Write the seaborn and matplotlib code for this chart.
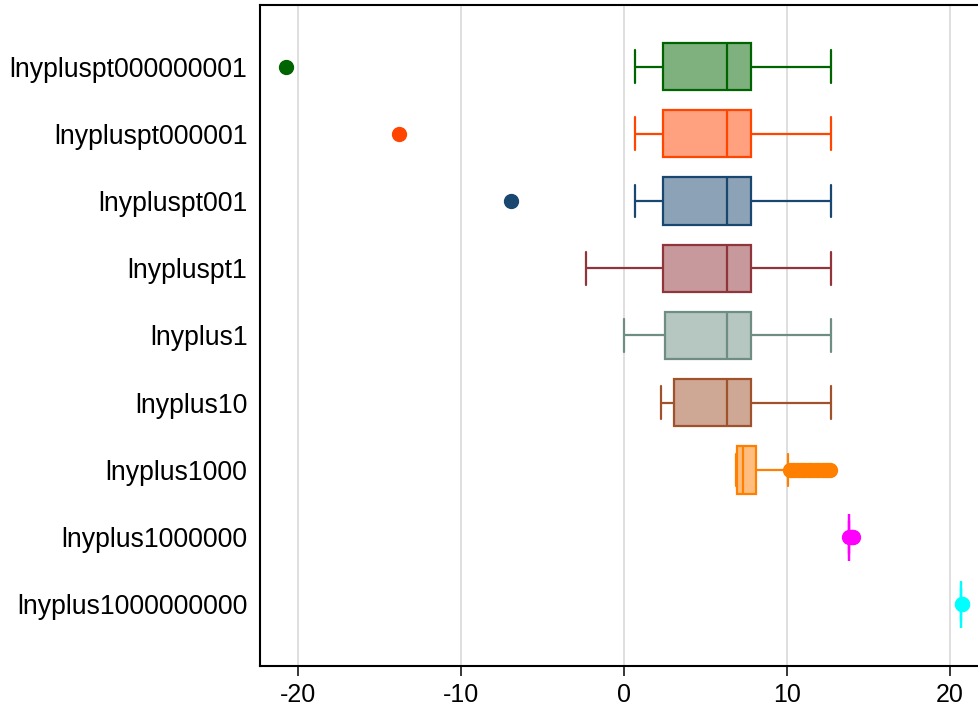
import numpy as np
import pandas as pd
import matplotlib
matplotlib.use("Agg")
import matplotlib.pyplot as plt
import matplotlib.colors as mcolors
import seaborn as sns

# ---- data ----
categories = ["lnypluspt000000001", "lnypluspt000001", "lnypluspt001", "lnypluspt1",
              "lnyplus1", "lnyplus10", "lnyplus1000", "lnyplus1000000", "lnyplus1000000000"]
whisker_low = [0.71, 0.71, 0.71, -2.30, 0.00, 2.31, 6.91, 13.82, 20.72]
q1 = [2.41, 2.41, 2.41, 2.43, 2.52, 3.09, 6.95, 13.82, 20.72]
median = [6.34, 6.34, 6.34, 6.34, 6.34, 6.36, 7.32, 13.82, 20.72]
q3 = [7.83, 7.83, 7.83, 7.83, 7.83, 7.83, 8.14, 13.82, 20.72]
whisker_high = [12.74, 12.74, 12.74, 12.74, 12.74, 12.74, 10.10, 13.82, 20.72]
outliers = [
    [-20.72],
    [-13.82],
    [-6.91],
    [],
    [],
    [],
    [10.20, 10.33, 10.47, 10.6, 10.74, 10.88, 11.02, 11.15, 11.3, 11.44, 11.58,
     11.72, 11.86, 12.0, 12.14, 12.28, 12.42, 12.55, 12.66],
    [13.85, 13.92, 14.0, 14.08],
    [20.74, 20.78],
]
whis_factor = [1.5, 1.5, 1.5, 1.5, 1.5, 1.5, 1.7, 1.5, 1.5]
colors = ["#006400", "#FF4500", "#1A476F", "#90353B", "#6E8E84",
          "#A0522D", "#FF7F00", "#FF00FF", "#00FFFF"]
xticks = [-20, -10, 0, 10, 20]

# ---- build a sample table that reproduces each box's summary ----
frames = []
for i, cat in enumerate(categories):
    vals = np.concatenate([
        np.repeat([whisker_low[i], q1[i], median[i], q3[i], whisker_high[i]], 100),
        np.array(outliers[i], dtype=float),
    ])
    frames.append(pd.DataFrame({"variable": cat, "value": vals}))
df = pd.concat(frames, ignore_index=True)

sns.set_theme(style="ticks")
plt.rcParams["font.family"] = ["Liberation Sans", "DejaVu Sans"]

fig = plt.figure(figsize=(9.79, 7.14), dpi=100)
ax = fig.add_axes([260 / 979, 48 / 714, 730.4 / 979, 661.5 / 714])

for i, cat in enumerate(categories):
    c = colors[i]
    rgb = mcolors.to_rgb(c)
    sub = df[df["variable"] == cat]
    sns.boxplot(data=sub, x="value", y="variable", order=categories, orient="h",
                width=0.7, color=c, saturation=1, linecolor=c, linewidth=1.6,
                whis=whis_factor[i], fliersize=10,
                boxprops=dict(facecolor=(*rgb, 0.5), edgecolor=c),
                flierprops=dict(marker="o", markerfacecolor=c, markeredgecolor=c),
                ax=ax)

# longer whisker caps, as in the reference
for ln in ax.lines:
    x = np.asarray(ln.get_xdata(), dtype=float)
    y = np.asarray(ln.get_ydata(), dtype=float)
    if len(x) == 2 and x[0] == x[1] and 0 < abs(y[1] - y[0]) < 0.6:
        cy = y.mean()
        ln.set_ydata([cy - 0.245, cy + 0.245])

ax.set_xlim(-22.33, 22.5)
ax.set_ylim(8.915, -0.922)
ax.set_xticks(xticks)
ax.set_xticklabels([str(t) for t in xticks])
ax.set_xlabel("")
ax.set_ylabel("")
ax.grid(axis="x", color="#dcdcdc", linewidth=1.3)
ax.grid(axis="y", visible=False)
ax.set_axisbelow(True)
for s in ax.spines.values():
    s.set_visible(True)
    s.set_color("black")
    s.set_linewidth(1.5)
ax.tick_params(axis="x", length=7, width=1.1, color="black", pad=5,
               labelsize=18, labelcolor="black")
ax.tick_params(axis="y", length=0, pad=9, labelsize=19.2, labelcolor="black")

fig.savefig("out.png", dpi=100)
